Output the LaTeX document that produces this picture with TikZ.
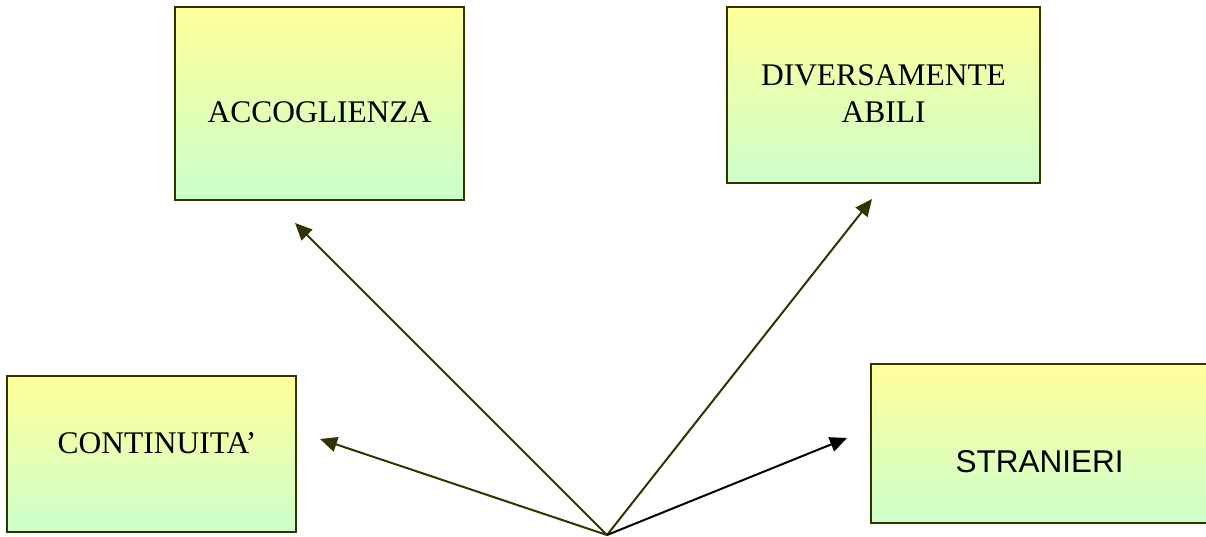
\documentclass[tikz,border=0pt]{standalone}
\usepackage{fontspec}
\setmainfont{Liberation Serif}
\newfontfamily\arialfont{Liberation Sans}
\usetikzlibrary{arrows.meta}
\definecolor{boxtop}{HTML}{FFFF99}
\definecolor{boxbot}{HTML}{CCFFCC}
\definecolor{olive}{HTML}{333300}
\tikzset{
  panel/.style={draw=olive, line width=1.8pt, top color=boxtop, bottom color=boxbot, inner sep=0pt},
  lbl/.style={anchor=base, font=\fontsize{31.5}{37}\selectfont, inner sep=0pt, align=center},
  conn/.style={draw=olive, line width=2pt, -{Triangle[length=17pt,width=15pt]}},
}
\begin{document}
\begin{tikzpicture}[x=1pt,y=-1pt]
\useasboundingbox (0,0) rectangle (1206,537);
\begin{scope}
\clip (0,0) rectangle (1206,537);
\node[panel, minimum width=289pt, minimum height=193pt] (acc) at (319.5,103.5) {};
\node[panel, minimum width=313pt, minimum height=176pt] (div) at (883.5,95) {};
\node[panel, minimum width=289pt, minimum height=156pt] (con) at (151.5,454) {};
\node[panel, minimum width=345pt, minimum height=159pt] (str) at (1043.5,443.5) {};
\end{scope}
\node[lbl] (tacc) at (319.5,122.7) {ACCOGLIENZA};
\node[lbl, anchor=north] (tdiv) at (883.5,64) {DIVERSAMENTE\\ABILI};
\node[lbl] (tcon) at (157,453) {CONTINUITA’};
\node[lbl, font=\arialfont\fontsize{31.5}{37}\selectfont] (tstr) at (1039.5,472) {STRANIERI};
\coordinate (src) at (607,535);
\coordinate (pacc) at (295,223);
\coordinate (pdiv) at (872,199);
\coordinate (pcon) at (320,439);
\coordinate (pstr) at (847,438);
\draw[conn] (src) -- (pacc);
\draw[conn] (src) -- (pdiv);
\draw[conn] (src) -- (pcon);
\draw[conn, draw=black] (src) -- (pstr);
\end{tikzpicture}
\end{document}
